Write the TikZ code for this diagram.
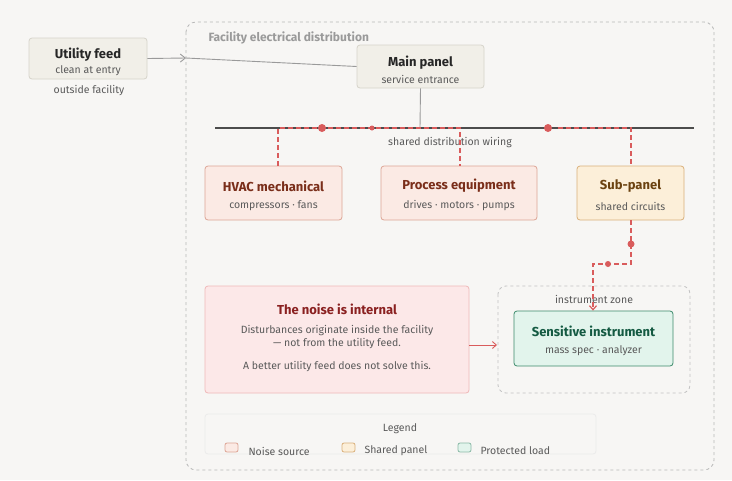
\documentclass[tikz,border=0pt]{standalone}
\usepackage{fontspec}
\setmainfont{Fira Sans}
\usetikzlibrary{arrows.meta}
\definecolor{bg}{HTML}{F7F6F4}
\definecolor{neutF}{HTML}{F1EFE8}\definecolor{neutD}{HTML}{D6D3CA}
\definecolor{noiseF}{HTML}{FBEAE4}\definecolor{noiseD}{HTML}{DDA595}\definecolor{noiseT}{HTML}{7A2E1A}
\definecolor{subF}{HTML}{FCEFD9}\definecolor{subD}{HTML}{D9B07A}\definecolor{subT}{HTML}{6B4210}
\definecolor{protF}{HTML}{E2F4EC}\definecolor{protD}{HTML}{3C8A6B}\definecolor{protT}{HTML}{145A42}
\definecolor{alertF}{HTML}{FCE8E8}\definecolor{alertD}{HTML}{F0B8B8}\definecolor{alertT}{HTML}{8A2020}
\definecolor{redl}{HTML}{D95C5C}\definecolor{txt}{HTML}{5A5A5A}\definecolor{gr}{HTML}{9A9A9A}
\tikzset{
 box/.style={draw,rounded corners=3pt,line width=0.8pt,inner sep=0pt,align=center},
 ttl/.style={font=\bfseries\fontsize{13}{15}\selectfont},
 sub/.style={font=\fontsize{10.5}{13}\selectfont,text=txt},
 red/.style={redl,dashed,line width=1.2pt,dash pattern=on 5pt off 3pt},
 dot/.style={circle,fill=redl,inner sep=0pt,minimum size=#1},
 lbl/.style={font=\fontsize{10.5}{13}\selectfont,text=txt}
}
\begin{document}
\begin{tikzpicture}[x=1pt,y=-1pt]
\fill[bg] (0,0) rectangle (732,480);
\useasboundingbox (0,0) rectangle (732,480);
\draw[gr!70,dashed,rounded corners=10pt,line width=0.8pt] (186,22) rectangle (714,470);
\node[anchor=west,font=\bfseries\fontsize{12}{14}\selectfont,text=gr] (ftitle) at (205,38) {Facility electrical distribution};
% utility
\node[box,fill=neutF,draw=neutD,minimum width=118pt,minimum height=41pt] (util) at (88,58.5) {};
\node[ttl,text=black!85] (utilt) at (88,55) {Utility feed};
\node[sub] (utils) at (88,71) {clean at entry};
\node[lbl] (outside) at (89,91) {outside facility};
% main panel
\node[box,fill=neutF,draw=neutD,minimum width=127pt,minimum height=43pt] (main) at (420.5,66.5) {};
\node[ttl,text=black!85] (maint) at (420.5,63) {Main panel};
\node[sub] (mains) at (420.5,79) {service entrance};
\coordinate (edge) at (186,58);
\draw[gr,line width=0.9pt,-{Straight Barb[length=5pt,width=8pt]}] (util.east) -- (edge);
\draw[gr,line width=0.9pt] (edge) -- (main.west);
% bus
\coordinate (busL) at (215,128); \coordinate (busR) at (694,128);
\coordinate (busM) at (420,128);
\draw[gr,line width=0.9pt] (main.south) -- (busM);
\draw[black!70,line width=2pt] (busL) -- (busR);
\node[lbl] (buslbl) at (450,143) {shared distribution wiring};
% loads
\node[box,fill=noiseF,draw=noiseD,minimum width=137pt,minimum height=54pt] (hvac) at (273.5,193) {};
\node[ttl,text=noiseT] (hvact) at (273.5,186) {HVAC mechanical};
\node[sub] (hvacs) at (273.5,206) {compressors · fans};
\node[box,fill=noiseF,draw=noiseD,minimum width=156pt,minimum height=54pt] (proc) at (459,193) {};
\node[ttl,text=noiseT] (proct) at (459,186) {Process equipment};
\node[sub] (procs) at (459,206) {drives · motors · pumps};
\node[box,fill=subF,draw=subD,minimum width=107pt,minimum height=54pt] (subp) at (630.5,193) {};
\node[ttl,text=subT] (subpt) at (630.5,186) {Sub-panel};
\node[sub] (subps) at (630.5,206) {shared circuits};
% red paths
\coordinate (h1) at (278,128); \coordinate (p1) at (460,128);
\coordinate (s0) at (558,128); \coordinate (s1) at (631,128);
\draw[red] (hvac.north -| h1) -- (h1) -- (p1) -- (proc.north -| p1);
\draw[red] (s0) -- (s1) -- (subp.north -| s1);
\node[dot=8pt] (d1) at (322,128) {};
\node[dot=5pt] (d2) at (372,128) {};
\node[dot=8pt] (d3) at (548,128) {};
% zone
\draw[gr!60,dashed,rounded corners=8pt,line width=0.8pt] (498,286) rectangle (690,393);
\node[lbl] (zone) at (594,299) {instrument zone};
\node[box,fill=protF,draw=protD,minimum width=159pt,minimum height=55pt] (sens) at (593.5,338.5) {};
\node[ttl,text=protT] (senst) at (593.5,331) {Sensitive instrument};
\node[sub] (senss) at (593.5,351) {mass spec · analyzer};
\coordinate (c1) at (631,264); \coordinate (c2) at (593,264);
\draw[red,-{Straight Barb[length=4pt,width=7pt]}] (subp.south -| c1) -- (c1) -- (c2) -- (sens.north -| c2);
\node[dot=7pt] (d4) at (631,244) {};
\node[dot=6pt] (d5) at (608,264) {};
% noise box
\node[box,fill=alertF,draw=alertD,minimum width=264pt,minimum height=107pt] (noise) at (337,339.5) {};
\node[ttl,text=alertT] (noiset) at (337,309) {The noise is internal};
\node[sub,align=center] (noises) at (337,337) {Disturbances originate inside the facility\\— not from the utility feed.};
\node[sub] (noises2) at (337,367) {A better utility feed does not solve this.};
\coordinate (zw) at (497,345);
\draw[redl,line width=0.9pt,-{Straight Barb[length=4pt,width=7pt]}] (noise.east |- zw) -- (zw);
% legend
\node[box,fill=bg,draw=black!8,rounded corners=3pt,minimum width=391pt,minimum height=40pt] (leg) at (400.5,434) {};
\node[lbl] (legt) at (400,429) {Legend};
\node[box,fill=noiseF,draw=noiseD,minimum width=13pt,minimum height=9pt,rounded corners=2pt] (sw1) at (231.5,447.5) {};
\node[lbl,anchor=west] (l1) at (245,451) {Noise source};
\node[box,fill=subF,draw=subD,minimum width=13pt,minimum height=9pt,rounded corners=2pt] (sw2) at (348.5,447.5) {};
\node[lbl,anchor=west] (l2) at (361,451) {Shared panel};
\node[box,fill=protF,draw=protD!60,minimum width=13pt,minimum height=9pt,rounded corners=2pt] (sw3) at (464.5,447.5) {};
\node[lbl,anchor=west] (l3) at (477,451) {Protected load};
\end{tikzpicture}
\end{document}
